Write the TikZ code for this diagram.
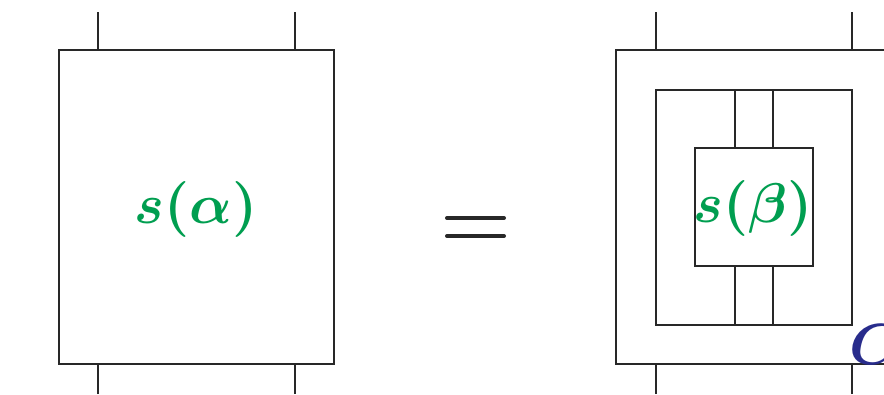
\documentclass[tikz,border=0pt]{standalone}
\usepackage{bm}
\usepackage{graphicx}
\definecolor{labgreen}{RGB}{0,158,80}
\definecolor{labblue}{RGB}{40,44,140}
\definecolor{linegray}{RGB}{40,40,40}
\tikzset{
  box/.style={draw=linegray, line width=1.7pt, inner sep=0pt, outer sep=0pt, fill=white},
  wire/.style={draw=linegray, line width=1.7pt},
  lab/.style={text=labgreen, inner sep=0pt}
}
\begin{document}
\begin{tikzpicture}[x=1pt,y=-1pt]
\useasboundingbox (0,0) rectangle (884,394);
\clip (0,0) rectangle (884,394);
% left box
\node[box, minimum width=275pt, minimum height=314pt] (A) at (196.5,207) {};
\node[lab] (la) at (196,209) {\scalebox{5.6}{$\bm{s(\alpha)}$}};
\coordinate (at1) at (98,12);
\coordinate (at2) at (295,12);
\coordinate (ab1) at (98,394);
\coordinate (ab2) at (295,394);
\draw[wire] (at1) -- (at1 |- A.north);
\draw[wire] (at2) -- (at2 |- A.north);
\draw[wire] (ab1) -- (ab1 |- A.south);
\draw[wire] (ab2) -- (ab2 |- A.south);
% equals
\coordinate (e1) at (447,218);
\coordinate (e2) at (504,218);
\coordinate (e3) at (447,236);
\coordinate (e4) at (504,236);
\draw[linegray, line width=4pt, line cap=round] (e1) -- (e2) (e3) -- (e4);
% right side
\node[box, minimum width=276pt, minimum height=314pt] (B) at (754,207) {};
\node[box, minimum width=196pt, minimum height=235pt] (M) at (754,207.5) {};
\node[box, minimum width=118pt, minimum height=118pt] (S) at (754,207) {};
\node[lab] (lb) at (753,208) {\scalebox{5.6}{$\bm{s(\beta)}$}};
\coordinate (bt1) at (656,12);
\coordinate (bt2) at (852,12);
\coordinate (bb1) at (656,394);
\coordinate (bb2) at (852,394);
\draw[wire] (bt1) -- (bt1 |- B.north);
\draw[wire] (bt2) -- (bt2 |- B.north);
\draw[wire] (bb1) -- (bb1 |- B.south);
\draw[wire] (bb2) -- (bb2 |- B.south);
\coordinate (m1) at (735,0);
\coordinate (m2) at (773,0);
\draw[wire] (m1 |- M.north) -- (m1 |- S.north);
\draw[wire] (m2 |- M.north) -- (m2 |- S.north);
\draw[wire] (m1 |- S.south) -- (m1 |- M.south);
\draw[wire] (m2 |- S.south) -- (m2 |- M.south);
\node[text=labblue, anchor=base west, inner sep=0pt] (C) at (849,364) {\scalebox{5.8}{$\bm{C}$}};
\end{tikzpicture}
\end{document}
